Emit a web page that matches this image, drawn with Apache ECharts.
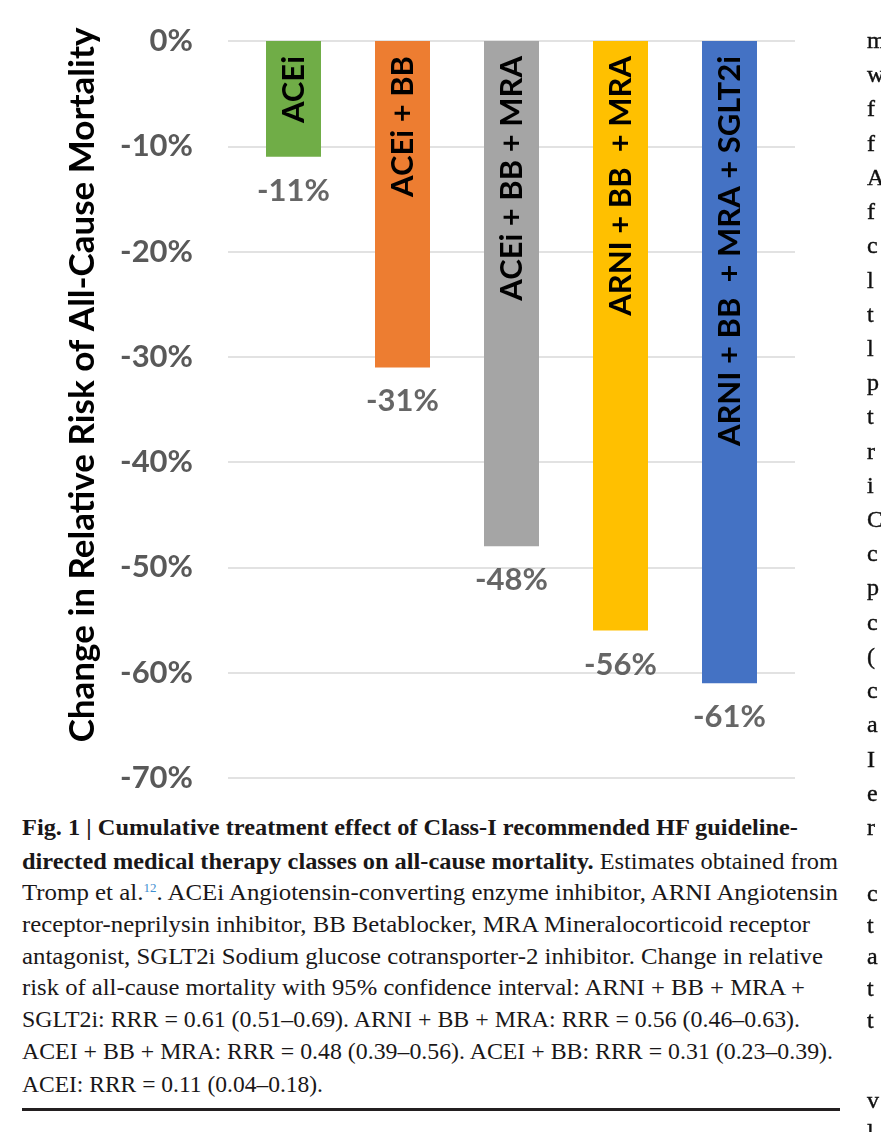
<!DOCTYPE html>
<html><head><meta charset="utf-8">
<script src="https://cdn.jsdelivr.net/npm/echarts@6/dist/echarts.min.js"></script>
<style>
html,body{margin:0;padding:0;width:881px;height:1132px;overflow:hidden;background:#fff;position:relative;}
#chart{position:absolute;left:0;top:0;width:881px;height:800px;}
.cap{position:absolute;left:22px;white-space:nowrap;font-family:'Liberation Serif','DejaVu Serif',serif;font-size:23px;color:#1a1718;line-height:32px;height:32px;transform-origin:0 50%;}
.cap b{font-weight:bold;}
.cap sup{color:#3d8ed0;font-size:12px;vertical-align:top;position:relative;top:-5px;}
.rc{position:absolute;left:867px;font-family:'Liberation Serif','DejaVu Serif',serif;font-size:24px;color:#111;line-height:32px;height:32px;white-space:nowrap;-webkit-text-stroke:0.4px #111;}
#rule{position:absolute;left:22px;width:818px;top:1108px;height:3px;background:#231f20;}
</style></head>
<body>
<div id="chart"></div>
<div id="rule"></div>
<script>
// ---- data ----
const categories = ['ACEi', 'ACEi + BB', 'ACEi + BB + MRA', 'ARNI + BB  + MRA', 'ARNI + BB  + MRA + SGLT2i'];
const values = [-0.11, -0.31, -0.48, -0.56, -0.61];
const yMin = -0.7, yMax = 0, yStep = 0.1;
const yTitle = 'Change in Relative Risk of All-Cause Mortality';

const captionLines = [
  '<b>Fig. 1 | Cumulative treatment effect of Class-I recommended HF guideline-</b>',
  '<b>directed medical therapy classes on all-cause mortality.</b> Estimates obtained from',
  'Tromp et al.<sup>12</sup>. ACEi Angiotensin-converting enzyme inhibitor, ARNI Angiotensin',
  'receptor-neprilysin inhibitor, BB Betablocker, MRA Mineralocorticoid receptor',
  'antagonist, SGLT2i Sodium glucose cotransporter-2 inhibitor. Change in relative',
  'risk of all-cause mortality with 95% confidence interval: ARNI + BB + MRA +',
  'SGLT2i: RRR = 0.61 (0.51–0.69). ARNI + BB + MRA: RRR = 0.56 (0.46–0.63).',
  'ACEI + BB + MRA: RRR = 0.48 (0.39–0.56). ACEI + BB: RRR = 0.31 (0.23–0.39).',
  'ACEI: RRR = 0.11 (0.04–0.18).'
];
const rightColTop = ['m','w','f','f','A','f','c','l','t','l','p','t','r','i','C','c','p','c','(','c','a','I','e','r'];
const rightColBottom = ['c','t','a','t','t'];
const rightColEnd = ['v','l'];

// ---- layout / style ----
const colors = ['#70ad47', '#ed7d31', '#a5a5a5', '#ffc000', '#4472c4'];
const capCenters = [828, 862, 893, 925, 957, 988, 1020, 1052, 1085];
const capRight = [798, 838, 838, 810, 823, 805, 800, 833, 323];

captionLines.forEach((html, i) => {
  const d = document.createElement('div');
  d.className = 'cap';
  d.innerHTML = html;
  d.style.top = (capCenters[i] - 16) + 'px';
  document.body.appendChild(d);
  const w = d.getBoundingClientRect().width;
  d.style.transform = 'scaleX(' + ((capRight[i] - 22) / w) + ')';
});
function addRc(ch, cy) {
  const d = document.createElement('div');
  d.className = 'rc';
  d.textContent = ch;
  d.style.top = (cy - 16) + 'px';
  document.body.appendChild(d);
}
rightColTop.forEach((ch, i) => addRc(ch, 40 + i * (787 / 23)));
rightColBottom.forEach((ch, i) => addRc(ch, 893 + i * 31.7));
rightColEnd.forEach((ch, i) => addRc(ch, 1100 + i * 31.7));

const pct = v => Math.round(v * 100) + '%';
const chart = echarts.init(document.getElementById('chart'));
chart.setOption({
  animation: false,
  grid: [
    {left: 228, right: 86, top: 41, bottom: 22},
    {left: 239, right: 97, top: 41, bottom: 22}
  ],
  xAxis: [
    {gridIndex: 0, type: 'category', data: categories, show: false},
    {gridIndex: 1, type: 'category', data: categories, show: false}
  ],
  yAxis: [
    {gridIndex: 0, type: 'value', min: yMin, max: yMax, interval: yStep,
     axisLine: {show: false}, axisTick: {show: false},
     splitLine: {lineStyle: {color: '#d9d9d9', width: 1.5}},
     axisLabel: {formatter: pct, fontFamily: 'Lato', fontWeight: 'bold', fontSize: 31, color: '#595959', margin: 35}},
    {gridIndex: 1, type: 'value', min: yMin, max: yMax, interval: yStep, show: false}
  ],
  series: [
    {type: 'bar', xAxisIndex: 1, yAxisIndex: 1, barWidth: 55,
     data: values.map((v, i) => ({value: v, itemStyle: {color: colors[i]}})),
     label: {show: true, position: 'insideTop', rotate: 90, align: 'right', verticalAlign: 'middle', distance: 15,
       formatter: p => categories[p.dataIndex], fontFamily: 'Lato', fontWeight: 'bold', fontSize: 31, color: '#000'}},
    {type: 'scatter', xAxisIndex: 1, yAxisIndex: 1, data: values, symbolSize: 1, itemStyle: {color: 'rgba(0,0,0,0)'},
     label: {show: true, position: 'bottom', distance: 18, formatter: p => pct(p.value),
       fontFamily: 'Lato', fontWeight: 'bold', fontSize: 31, color: '#404040'}}
  ],
  graphic: [
    {type: 'text', x: 83, y: 385, rotation: Math.PI / 2,
     style: {text: yTitle, font: 'bold 35px Lato', fill: '#000', align: 'center', verticalAlign: 'middle'}}
  ]
});
</script>
</body></html>
